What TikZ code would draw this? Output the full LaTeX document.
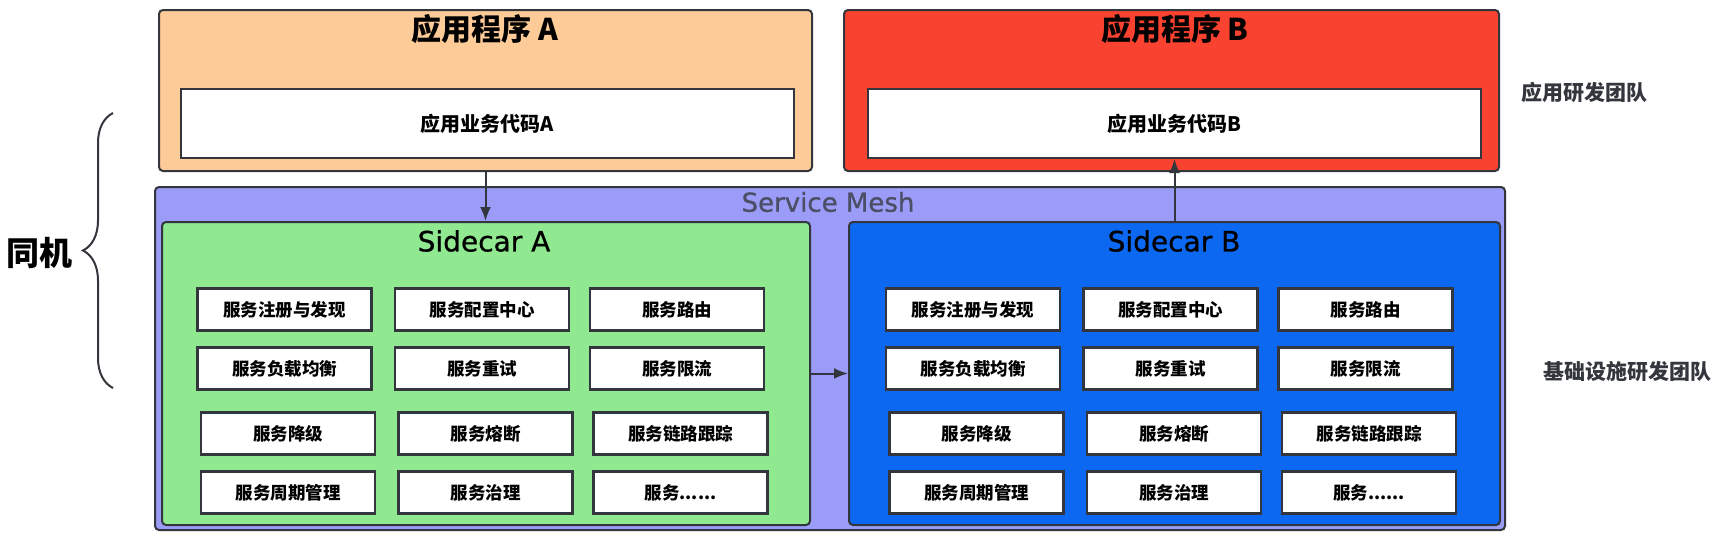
\documentclass[tikz,border=0pt]{standalone}
\usepackage{fontspec}
\setmainfont{DejaVu Sans}
\newfontfamily\cjk{Noto Sans CJK SC}
\newfontfamily\latmed[FakeBold=0.8]{DejaVu Sans}
\usetikzlibrary{arrows.meta,decorations.pathreplacing}

\definecolor{peach}{RGB}{253,203,151}
\definecolor{appred}{RGB}{250,66,48}
\definecolor{meshblue}{RGB}{154,156,247}
\definecolor{carA}{RGB}{144,232,144}
\definecolor{carB}{RGB}{12,104,240}
\definecolor{edge}{RGB}{51,54,60}
\definecolor{meshtext}{RGB}{75,78,100}

\newcommand\svcmore{服务......}

\begin{document}
\begin{tikzpicture}[x=1pt,y=-1pt,>={Latex[length=14pt,width=11pt]},
        box/.style={draw=edge,line width=2pt,rounded corners=4pt,inner sep=0pt},
        code node/.style={draw=edge,line width=2pt,fill=white,inner sep=0pt,
            minimum width=613pt,minimum height=69pt,
            font=\cjk\bfseries\fontsize{20}{24}\selectfont},
        svc node/.style={draw=edge,line width=2.2pt,fill=white,inner sep=0pt,
            minimum width=174pt,minimum height=42pt,
            font=\cjk\bfseries\fontsize{17.5}{21}\selectfont},
        title/.style={font=\cjk\bfseries\fontsize{30}{36}\selectfont},
        car title/.style={font=\latmed\fontsize{28}{34}\selectfont},
        team/.style={font=\cjk\bfseries\fontsize{21}{25}\selectfont,text=edge},
        link/.style={->,draw=edge,line width=2pt}]

\useasboundingbox[fill=white] (0,0) rectangle (1726,536);

% applications
\node (AppA) [box,fill=peach,minimum width=653pt,minimum height=161pt] at (485.5,90.5) {};
\node (AppA-t) [title] at (485,29) {应用程序 A};
\node (CodeA) [code node] at (487.5,123.5) {应用业务代码A};

\node (AppB) [box,fill=appred,minimum width=655pt,minimum height=161pt] at (1171.5,90.5) {};
\node (AppB-t) [title] at (1175,29) {应用程序 B};
\node (CodeB) [code node] at (1174.5,123.5) {应用业务代码B};

% mesh and sidecars
\node (Mesh) [box,fill=meshblue,minimum width=1350pt,minimum height=343pt] at (830,358.5) {};
\node (Mesh-t) [font=\latmed\fontsize{26}{31}\selectfont,text=meshtext] at (828,202) {Service Mesh};

\node (SideA) [box,fill=carA,minimum width=648pt,minimum height=303pt] at (486,373.5) {};
\node (SideA-t) [car title] at (484,241) {Sidecar A};
\node (SideB) [box,fill=carB,minimum width=651pt,minimum height=303pt] at (1174.5,373.5) {};
\node (SideB-t) [car title] at (1174,241) {Sidecar B};

\foreach \s/\x in {A/284.5, B/973}
  \foreach \r/\y/\dx/\la/\lb/\lc in {
      1/309.5/0/服务注册与发现/服务配置中心/服务路由,
      2/368.5/0/服务负载均衡/服务重试/服务限流,
      3/433.5/3.5/服务降级/服务熔断/服务链路跟踪,
      4/492.5/3.5/服务周期管理/服务治理/\svcmore}
  {
    \node (Side\s-\r-1) [svc node] at (\x+\dx,\y) {\la};
    \node (Side\s-\r-2) [svc node] at (\x+\dx+197.5,\y) {\lb};
    \node (Side\s-\r-3) [svc node] at (\x+\dx+392.5,\y) {\lc};
  }

% calls
\draw[link] (AppA.south) -- (AppA.south |- SideA.north);
\draw[link] (SideB.north -| CodeB.south) -- (CodeB.south);
\draw[link] (SideA.east) -- (SideB.west);

% same host brace
\draw[decorate,decoration={brace,amplitude=30pt},draw=edge,line width=2pt]
  (113,388) -- (113,113);
\node (Host) [font=\cjk\bfseries\fontsize{33}{40}\selectfont] at (39,253) {同机};

% teams
\node (TeamApp) [team] at (1584,92) {应用研发团队};
\node (TeamInfra) [team] at (1627,372) {基础设施研发团队};

\end{tikzpicture}
\end{document}
